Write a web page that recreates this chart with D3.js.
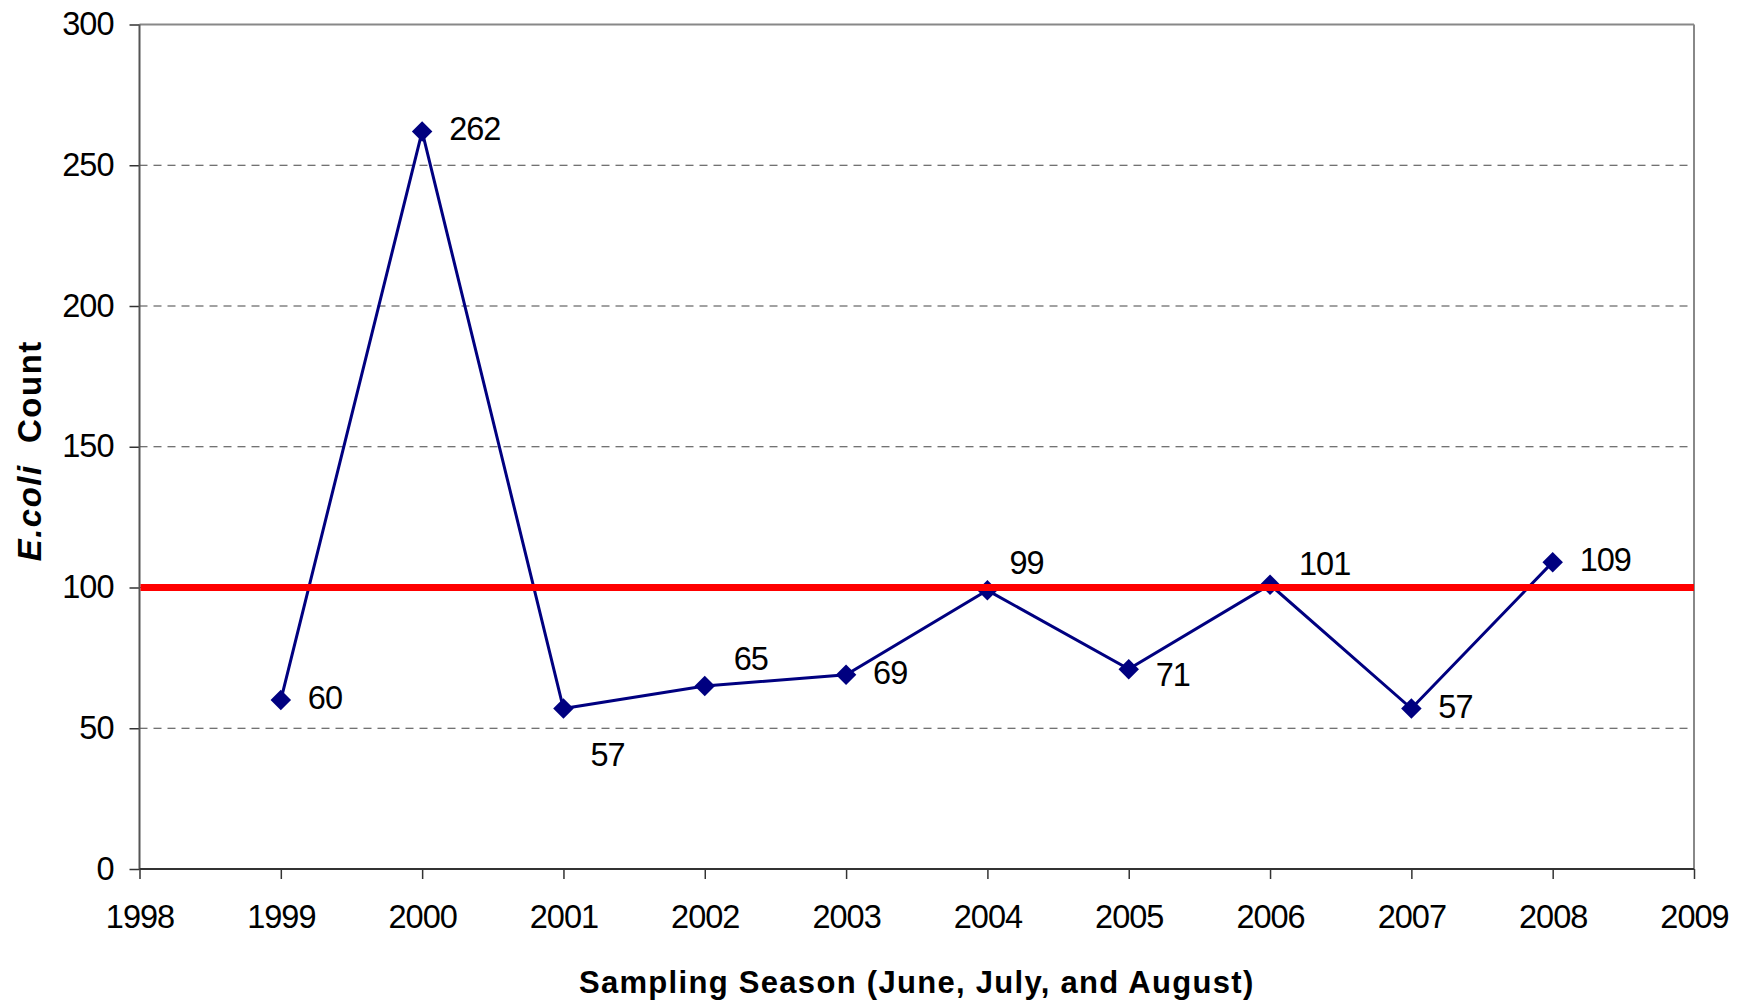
<!DOCTYPE html>
<html>
<head>
<meta charset="utf-8">
<script src="https://cdn.jsdelivr.net/npm/d3@7"></script>
<style>
    body { margin: 0; background: #fff; }
    svg { display: block; }
    .tick text, .data-label { font-family: "Liberation Sans", Arial, sans-serif; font-size: 32.5px; letter-spacing: -1px; fill: #000; }
    .axis-title { font-family: "Liberation Sans", Arial, sans-serif; font-weight: bold; fill: #000; }
</style>
</head>
<body>
<svg id="chart" width="1750" height="1007"></svg>
<script>
// Data
const years = [1999, 2000, 2001, 2002, 2003, 2004, 2005, 2006, 2007, 2008];
const counts = [60, 262, 57, 65, 69, 99, 71, 101, 57, 109];
const xTicks = [1998, 1999, 2000, 2001, 2002, 2003, 2004, 2005, 2006, 2007, 2008, 2009];
const yTicks = [0, 50, 100, 150, 200, 250, 300];
const threshold = 100;

// Label placement tweaks (most sit to the right of the point)
const labelDefault = [27, 9];
const labelNudge = { 2001: [27, 57], 2002: [29, -16], 2004: [22, -16], 2005: [27, 17], 2006: [29, -10] };

const svg = d3.select('#chart');

const x = d3.scaleLinear().domain([1998, 2009]).range([139.5, 1694]);
const y = d3.scaleLinear().domain([0, 300]).range([869, 24.5]);

// Gridlines (dashed)
svg.append('g')
    .selectAll('line')
    .data(yTicks.filter(v => v > 0 && v < 300))
    .enter().append('line')
    .attr('x1', x(1998))
    .attr('x2', x(2009))
    .attr('y1', d => y(d))
    .attr('y2', d => y(d))
    .attr('stroke', '#444')
    .attr('stroke-width', 1)
    .attr('stroke-dasharray', '8,6');

// Plot frame top/right
svg.append('line')
    .attr('x1', x(1998)).attr('x2', x(2009))
    .attr('y1', y(300)).attr('y2', y(300))
    .attr('stroke', '#888').attr('stroke-width', 2);
svg.append('line')
    .attr('x1', x(2009)).attr('x2', x(2009))
    .attr('y1', y(300)).attr('y2', y(0))
    .attr('stroke', '#888').attr('stroke-width', 2);

// X axis
const xAxis = svg.append('g')
    .attr('transform', `translate(0,${y(0)})`)
    .call(d3.axisBottom(x).tickValues(xTicks).tickSize(10).tickFormat(d3.format('d')));
xAxis.select('.domain').remove();
xAxis.selectAll('.tick line').attr('stroke', '#333').attr('stroke-width', 1.5);
xAxis.selectAll('.tick text').attr('y', 59).attr('dy', null);

// Y axis
const yAxis = svg.append('g')
    .attr('transform', `translate(${x(1998)},0)`)
    .call(d3.axisLeft(y).tickValues(yTicks).tickSize(10));
yAxis.select('.domain').remove();
yAxis.selectAll('.tick line').attr('stroke', '#333').attr('stroke-width', 1.5).attr('x2', -10).attr('x1', 0);
yAxis.selectAll('.tick text').attr('x', -26).attr('y', 10).attr('dy', null);

svg.append('line')
    .attr('x1', x(1998)).attr('x2', x(1998))
    .attr('y1', y(300)).attr('y2', y(0))
    .attr('stroke', '#555').attr('stroke-width', 2);
svg.append('line')
    .attr('x1', x(1998)).attr('x2', x(2009))
    .attr('y1', y(0)).attr('y2', y(0))
    .attr('stroke', '#333').attr('stroke-width', 2);

// Series line
const points = years.map((yr, i) => ({ year: yr, value: counts[i] }));

svg.append('path')
    .datum(points)
    .attr('fill', 'none')
    .attr('stroke', '#000080')
    .attr('stroke-width', 3)
    .attr('d', d3.line().x(d => x(d.year)).y(d => y(d.value)));

// Diamond markers
svg.append('g')
    .selectAll('path')
    .data(points)
    .enter().append('path')
    .attr('d', d3.symbol(d3.symbolSquare, 210))
    .attr('transform', d => `translate(${x(d.year)},${y(d.value)}) rotate(45)`)
    .attr('fill', '#000080');

// Threshold line
svg.append('line')
    .attr('x1', x(1998) + 1).attr('x2', x(2009))
    .attr('y1', y(threshold)).attr('y2', y(threshold))
    .attr('stroke', '#ff0000').attr('stroke-width', 7);

// Data labels
svg.append('g')
    .selectAll('text')
    .data(points)
    .enter().append('text')
    .attr('class', 'data-label')
    .attr('x', d => x(d.year) + (labelNudge[d.year] || labelDefault)[0])
    .attr('y', d => y(d.value) + (labelNudge[d.year] || labelDefault)[1])
    .text(d => d.value);

// Axis titles
svg.append('text')
    .attr('class', 'axis-title')
    .attr('x', (x(1998) + x(2009)) / 2)
    .attr('y', 993)
    .attr('text-anchor', 'middle')
    .style('font-size', '31px')
    .style('letter-spacing', '1.3px')
    .text('Sampling Season (June, July, and August)');

const yTitle = svg.append('text')
    .attr('class', 'axis-title')
    .attr('transform', `translate(41,${(y(0) + y(300)) / 2 + 4}) rotate(-90)`)
    .attr('text-anchor', 'middle')
    .style('font-size', '33px')
    .style('letter-spacing', '1.5px');
yTitle.append('tspan').style('font-style', 'italic').text('E.coli');
yTitle.append('tspan').attr('xml:space', 'preserve').text('\u00a0\u00a0Count');
</script>
</body>
</html>
